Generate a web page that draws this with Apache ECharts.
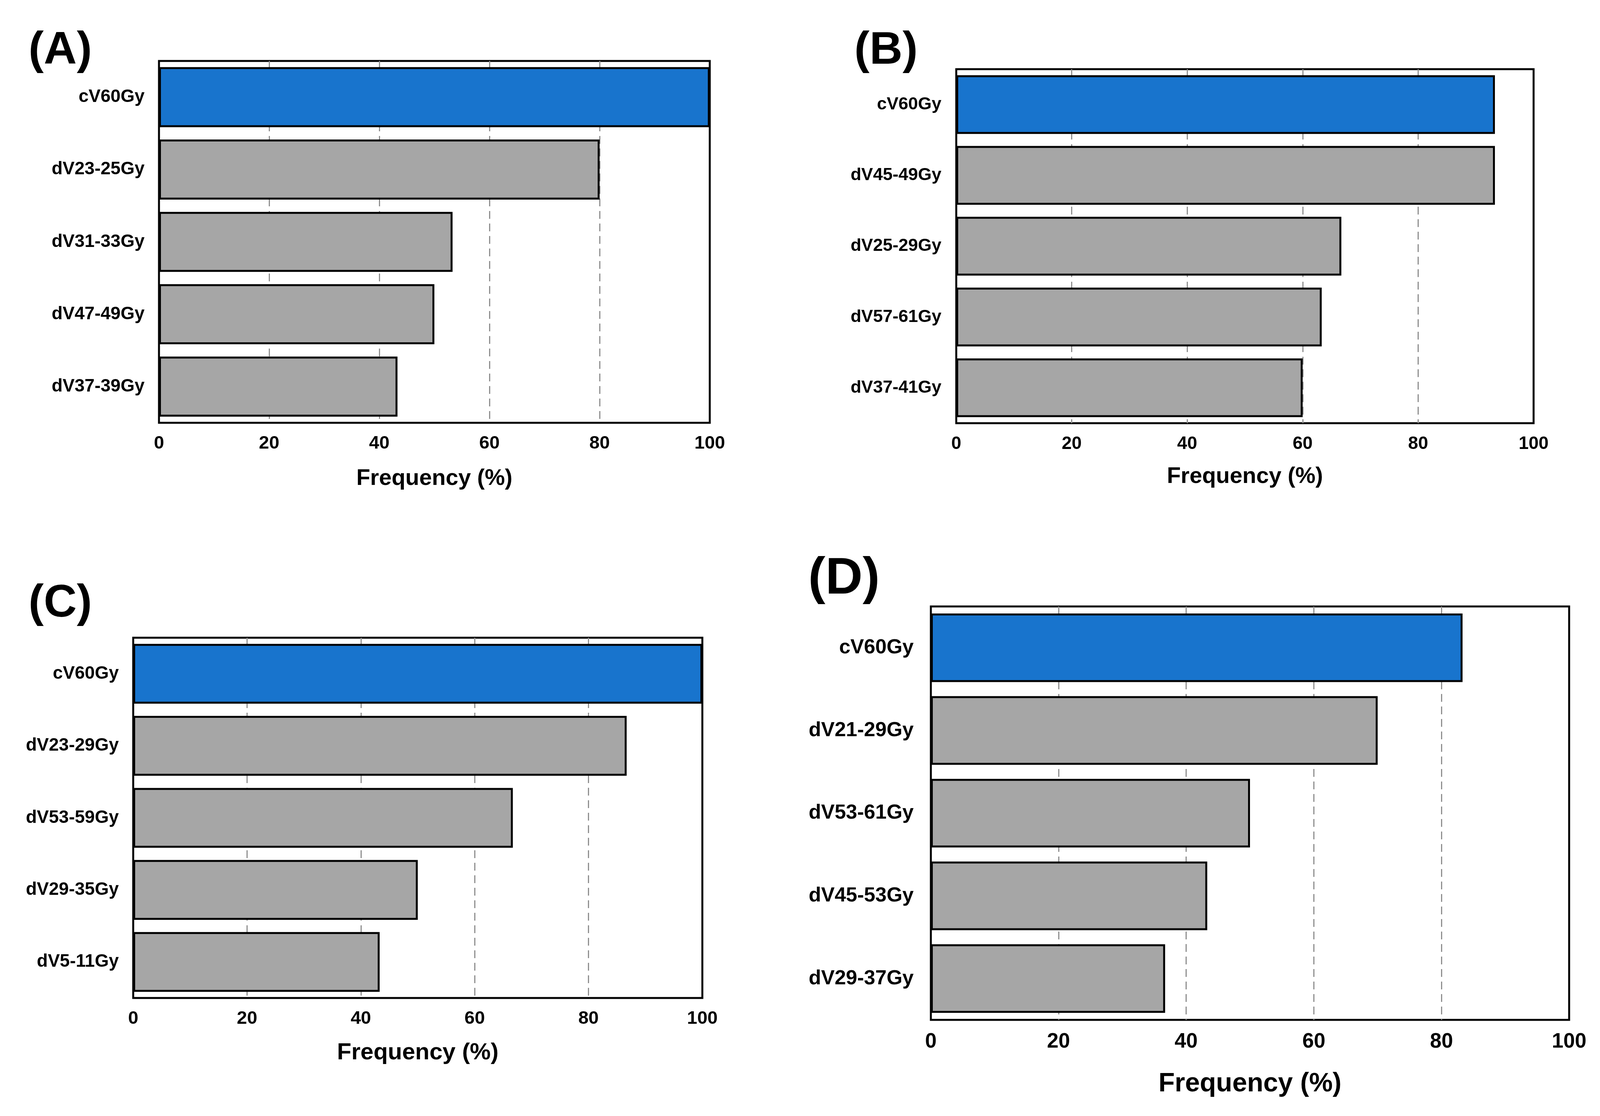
<!DOCTYPE html>
<html>
<head>
<meta charset="utf-8">
<script src="https://cdn.jsdelivr.net/npm/echarts@6/dist/echarts.min.js"></script>
<style>
html,body{margin:0;padding:0;background:#fff;}
#chart{width:4106px;height:2856px;}
</style>
</head>
<body>
<div id="chart"></div>
<script>
// ---- data ----
const panelTitles = ['(A)', '(B)', '(C)', '(D)'];
const xTicks = [0, 20, 40, 60, 80, 100];
const axisTitle = 'Frequency (%)';

const catsA = ['cV60Gy', 'dV23-25Gy', 'dV31-33Gy', 'dV47-49Gy', 'dV37-39Gy'];
const valsA = [100, 80, 53.3, 50, 43.3];

const catsB = ['cV60Gy', 'dV45-49Gy', 'dV25-29Gy', 'dV57-61Gy', 'dV37-41Gy'];
const valsB = [93.3, 93.3, 66.7, 63.3, 60];

const catsC = ['cV60Gy', 'dV23-29Gy', 'dV53-59Gy', 'dV29-35Gy', 'dV5-11Gy'];
const valsC = [100, 86.7, 66.7, 50, 43.3];

const catsD = ['cV60Gy', 'dV21-29Gy', 'dV53-61Gy', 'dV45-53Gy', 'dV29-37Gy'];
const valsD = [83.3, 70, 50, 43.3, 36.7];

// ---- layout / style ----
const FONT = "'Liberation Sans', Arial, sans-serif";
const BLUE = '#1874CD';
const GREY = '#A6A6A6';

const panels = [
  {cats: catsA, vals: valsA, grid: {left: 407, top: 156, width: 1410, height: 926},
   title: {left: 73, top: 72, size: 117}, cat: 46, tick: 47, name: 58, nameGap: 114, labMargin: 37},
  {cats: catsB, vals: valsB, grid: {left: 2448, top: 177, width: 1478, height: 906},
   title: {left: 2187, top: 72, size: 117}, cat: 45, tick: 46, name: 58, nameGap: 108, labMargin: 38},
  {cats: catsC, vals: valsC, grid: {left: 341, top: 1632, width: 1457, height: 922},
   title: {left: 73, top: 1487, size: 117}, cat: 46, tick: 47, name: 60, nameGap: 110, labMargin: 37},
  {cats: catsD, vals: valsD, grid: {left: 2383, top: 1552, width: 1634, height: 1058},
   title: {left: 2069, top: 1417, size: 132}, cat: 52, tick: 53, name: 68, nameGap: 130, labMargin: 44}
];

const option = {
  backgroundColor: '#ffffff',
  animation: false,
  title: panels.map((p, i) => ({
    text: panelTitles[i], left: p.title.left, top: p.title.top, padding: 0,
    textStyle: {fontFamily: FONT, fontWeight: 'bold', fontSize: p.title.size, color: '#000'}
  })),
  grid: panels.map(p => ({
    left: p.grid.left, top: p.grid.top, width: p.grid.width, height: p.grid.height,
    show: true, borderColor: '#000', borderWidth: 5, backgroundColor: 'transparent',
    containLabel: false
  })),
  xAxis: panels.map((p, i) => ({
    type: 'value', gridIndex: i, min: xTicks[0], max: xTicks[xTicks.length - 1],
    interval: xTicks[1] - xTicks[0],
    name: axisTitle, nameLocation: 'middle', nameGap: p.nameGap,
    nameTextStyle: {fontFamily: FONT, fontWeight: 'bold', fontSize: p.name, color: '#000'},
    axisLine: {show: false}, axisTick: {show: false},
    axisLabel: {fontFamily: FONT, fontWeight: 'bold', fontSize: p.tick, color: '#000', margin: 30},
    splitLine: {show: true, showMinLine: false, showMaxLine: false,
      lineStyle: {color: '#8f8f8f', width: 3, type: [20, 12]}}
  })),
  yAxis: panels.map((p, i) => ({
    type: 'category', gridIndex: i, data: p.cats, inverse: true,
    axisLine: {show: false}, axisTick: {show: false}, splitLine: {show: false},
    axisLabel: {fontFamily: FONT, fontWeight: 'bold', fontSize: p.cat, color: '#000', margin: p.labMargin}
  })),
  series: panels.map((p, i) => ({
    type: 'bar', xAxisIndex: i, yAxisIndex: i, data: p.vals,
    barCategoryGap: '17%',
    itemStyle: {
      color: (params) => params.dataIndex === 0 ? BLUE : GREY,
      borderColor: '#000', borderWidth: 5
    }
  }))
};

const chart = echarts.init(document.getElementById('chart'), null, {renderer: 'canvas'});
chart.setOption(option);
</script>
</body>
</html>
